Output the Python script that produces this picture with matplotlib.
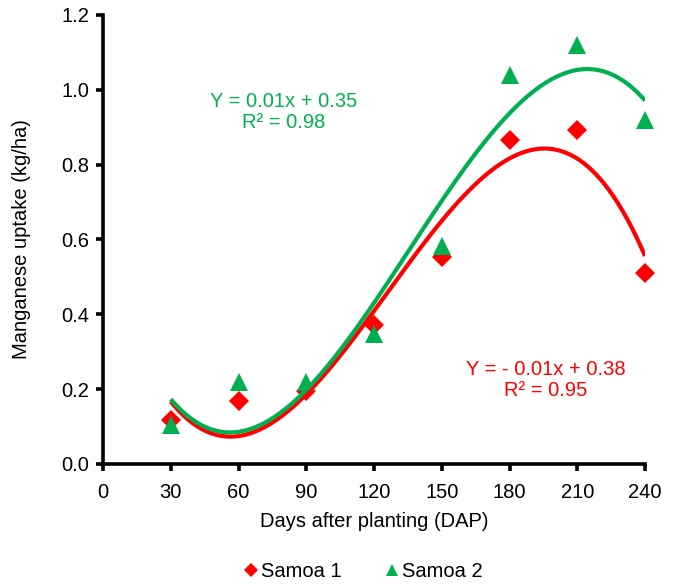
import numpy as np
import matplotlib
matplotlib.use("Agg")
import matplotlib.pyplot as plt
from matplotlib.lines import Line2D

plt.rcParams['font.family'] = ['Liberation Sans', 'DejaVu Sans']

days = [30, 60, 90, 120, 150, 180, 210, 240]
samoa1 = [0.118, 0.168, 0.195, 0.372, 0.553, 0.866, 0.893, 0.51]
samoa2 = [0.104, 0.219, 0.22, 0.347, 0.583, 1.04, 1.12, 0.92]
x_ticks = [0, 30, 60, 90, 120, 150, 180, 210, 240]
y_ticks = [0.0, 0.2, 0.4, 0.6, 0.8, 1.0, 1.2]

red = '#FF0000'
green = '#00B050'
fs = 14.5

fig = plt.figure(figsize=(6.84, 5.88), dpi=100)
ax = fig.add_axes([0.1506, 0.2109, 0.7924, 0.7636])

xd = np.array(days, dtype=float)
xs = np.linspace(xd.min(), xd.max(), 300)
for vals, col, mk, ms in [(samoa1, red, 'D', 10), (samoa2, green, '^', 13)]:
    ax.plot(days, vals, linestyle='none', marker=mk, color=col, markersize=ms,
            markeredgewidth=0, zorder=3, clip_on=False)
    coef = np.polyfit(xd, np.array(vals), 3)
    ax.plot(xs, np.polyval(coef, xs), color=col, linewidth=3, zorder=4,
            solid_capstyle='butt')

ax.set_xlim(0, 240)
ax.set_ylim(0, 1.2)
ax.set_xticks(x_ticks)
ax.set_yticks(y_ticks)
ax.set_yticklabels([f"{v:.1f}" for v in y_ticks])
for s in ['top', 'right']:
    ax.spines[s].set_visible(False)
for s in ['left', 'bottom']:
    ax.spines[s].set_linewidth(2.6)
ax.tick_params(direction='out', length=5, width=2.6, labelsize=fs)
ax.tick_params(axis='x', pad=9)
ax.tick_params(axis='y', pad=5)
ax.set_xlabel('Days after planting (DAP)', fontsize=fs, labelpad=7)
ax.set_ylabel('Manganese uptake (kg/ha)', fontsize=fs, labelpad=22)

ax.text(80, 0.94, 'Y = 0.01x + 0.35\nR² = 0.98', color=green, fontsize=fs,
        ha='center', va='center', linespacing=1.15)
ax.text(196, 0.225, 'Y = - 0.01x + 0.38\nR² = 0.95', color=red, fontsize=fs,
        ha='center', va='center', linespacing=1.1)

handles = [Line2D([], [], linestyle='none', marker='D', color=red, markersize=7, markeredgewidth=0),
           Line2D([], [], linestyle='none', marker='^', color=green, markersize=8, markeredgewidth=0)]
fig.legend(handles, ['Samoa 1', 'Samoa 2'], loc='center', bbox_to_anchor=(0.532, 0.028),
           ncol=2, frameon=False, fontsize=fs, handlelength=0.6, handletextpad=0.2,
           columnspacing=2.2)

fig.savefig('out.png', dpi=100)
